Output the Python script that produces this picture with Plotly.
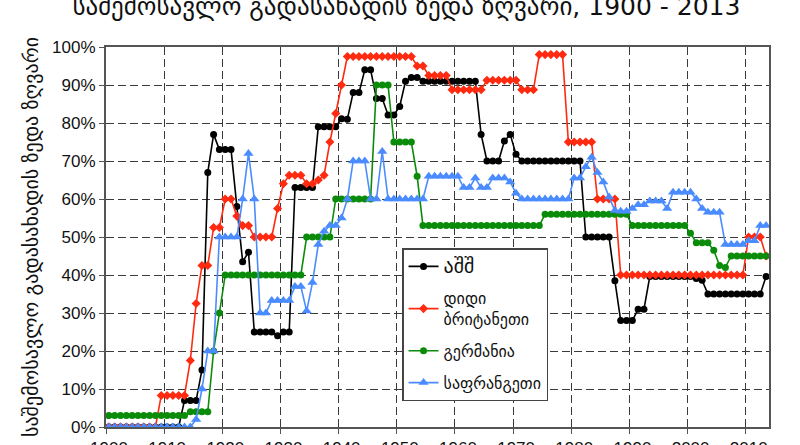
import plotly.graph_objects as go

# Years (x categories) and decade tick labels
years = list(range(1900, 2014))
tick_labels = ["1900", "1910", "1920", "1930", "1940", "1950",
               "1960", "1970", "1980", "1990", "2000", "2010"]
# gridlines/ticks sit on category boundaries (half a year before each label)
tick_bounds = [1899.5, 1909.5, 1919.5, 1929.5, 1939.5, 1949.5,
               1959.5, 1969.5, 1979.5, 1989.5, 1999.5, 2009.5]

# Top marginal income tax rates (%)
usa = [
    0, 0, 0, 0, 0, 0, 0, 0, 0, 0,                      # 1900-1909
    0, 0, 0, 7, 7, 7, 15, 67, 77, 73,                  # 1910-1919
    73, 73, 58, 43.5, 46, 25, 25, 25, 25, 24,          # 1920-1929
    25, 25, 63, 63, 63, 63, 79, 79, 79, 79,            # 1930-1939
    81.1, 81, 88, 88, 94, 94, 86.45, 86.45, 82.13, 82.13,  # 1940-1949
    84.36, 91, 92, 92, 91, 91, 91, 91, 91, 91,         # 1950-1959
    91, 91, 91, 91, 77, 70, 70, 70, 75.25, 77,         # 1960-1969
    71.75, 70, 70, 70, 70, 70, 70, 70, 70, 70,         # 1970-1979
    70, 70, 50, 50, 50, 50, 50, 38.5, 28, 28,          # 1980-1989
    28, 31, 31, 39.6, 39.6, 39.6, 39.6, 39.6, 39.6, 39.6,  # 1990-1999
    39.6, 39.1, 38.6, 35, 35, 35, 35, 35, 35, 35,      # 2000-2009
    35, 35, 35, 39.6,                                  # 2010-2013
]
uk = [
    0, 0, 0, 0, 0, 0, 0, 0, 0, 8.3,                    # 1900-1909
    8.3, 8.3, 8.3, 8.3, 17.5, 32.5, 42.5, 42.5, 52.5, 52.5,  # 1910-1919
    60, 60, 55.5, 53, 53, 50, 50, 50, 50, 57.5,        # 1920-1929
    64, 66.25, 66.25, 66.25, 64, 64, 65, 66.25, 75, 82.5,  # 1930-1939
    90, 97.5, 97.5, 97.5, 97.5, 97.5, 97.5, 97.5, 97.5, 97.5,  # 1940-1949
    97.5, 97.5, 97.5, 95, 95, 92.5, 92.5, 92.5, 92.5, 88.75,  # 1950-1959
    88.75, 88.75, 88.75, 88.75, 88.75, 91.25, 91.25, 91.25, 91.25, 91.25,  # 1960-1969
    91.25, 88.75, 88.75, 88.75, 98, 98, 98, 98, 98, 75,  # 1970-1979
    75, 75, 75, 75, 60, 60, 60, 60, 40, 40,            # 1980-1989
    40, 40, 40, 40, 40, 40, 40, 40, 40, 40,            # 1990-1999
    40, 40, 40, 40, 40, 40, 40, 40, 40, 40,            # 2000-2009
    50, 50, 50, 45,                                    # 2010-2013
]
germany = [
    3, 3, 3, 3, 3, 3, 3, 3, 3, 3,                      # 1900-1909
    3, 3, 3, 3, 4, 4, 4, 4, 20, 30,                    # 1910-1919
    40, 40, 40, 40, 40, 40, 40, 40, 40, 40,            # 1920-1929
    40, 40, 40, 40, 50, 50, 50, 50, 50, 60,            # 1930-1939
    60, 60, 60, 60, 60, 60, 90, 90, 90, 75,            # 1940-1949
    75, 75, 75, 66, 53, 53, 53, 53, 53, 53,            # 1950-1959
    53, 53, 53, 53, 53, 53, 53, 53, 53, 53,            # 1960-1969
    53, 53, 53, 53, 53, 56, 56, 56, 56, 56,            # 1970-1979
    56, 56, 56, 56, 56, 56, 56, 56, 56, 56,            # 1980-1989
    53, 53, 53, 53, 53, 53, 53, 53, 53, 53,            # 1990-1999
    51, 48.5, 48.5, 48.5, 46.5, 42.5, 42, 45, 45, 45,  # 2000-2009
    45, 45, 45, 45,                                    # 2010-2013
]
france = [
    0, 0, 0, 0, 0, 0, 0, 0, 0, 0,                      # 1900-1909
    0, 0, 0, 0, 0, 2, 10, 20, 20, 50,                  # 1910-1919
    50, 50, 50, 60, 72, 60, 30, 30, 33.3, 33.3,        # 1920-1929
    33.3, 33.3, 37, 37, 30.5, 38, 48, 51.5, 53, 53,    # 1930-1939
    55, 60, 70, 70, 70, 60, 60, 72.5, 60, 60,          # 1940-1949
    60, 60, 60, 60, 60, 66, 66, 66, 66, 66,            # 1950-1959
    66, 63, 63, 65.5, 63, 63, 65.5, 65.5, 65.5, 64.5,  # 1960-1969
    61.5, 60, 60, 60, 60, 60, 60, 60, 60, 60,          # 1970-1979
    65.5, 65.5, 68.5, 71, 67, 64.5, 60.5, 57, 56.8, 56.8,  # 1980-1989
    57.5, 58.5, 58.5, 59.5, 59.5, 59.5, 57.5, 61.8, 61.8, 61.8,  # 1990-1999
    61.8, 60, 57.5, 56.5, 56.5, 56.5, 48, 48, 48, 48,  # 2000-2009
    49, 49, 53, 53,                                    # 2010-2013
]
for s in (usa, uk, germany, france):
    assert len(s) == len(years), len(s)

names = ["<span style='font-size:20px'>აშშ</span>", "დიდი<br>ბრიტანეთი",
         "გერმანია", "საფრანგეთი"]
series = [usa, uk, germany, france]
colors = ["#000000", "#ff2a10", "#0a8c0a", "#4a8cff"]
symbols = ["circle", "diamond", "circle", "triangle-up"]
msizes = [7, 7, 7, 9]

title_text = "საშემოსავლო გადასახადის ზედა ზღვარი, 1900 - 2013"
ytitle_text = "საშემოსავლო გადასახადის ზედა ზღვარი"

GEO = "DejaVu Sans"
NUM = "Liberation Sans"

fig = go.Figure()
for i, (nm, vals) in enumerate(zip(names, series)):
    fig.add_trace(go.Scatter(
        x=years, y=vals, name=nm, mode="lines+markers",
        legendgroup=f"g{i}",
        line=dict(color=colors[i], width=1.6),
        marker=dict(symbol=symbols[i], size=msizes[i], color=colors[i],
                    line=dict(width=0)),
    ))

grid = dict(showgrid=True, gridcolor="#3a3a3a", gridwidth=1, griddash="8px,4px")

fig.update_layout(
    width=800, height=445,
    margin=dict(l=106, r=31, t=47, b=18, autoexpand=False),
    paper_bgcolor="white", plot_bgcolor="white",
    title=dict(text=title_text, x=0.508, xanchor="center",
               y=0.985, yanchor="middle", yref="container",
               font=dict(family=GEO, size=25, color="#111")),
    xaxis=dict(range=[1899.5, 2013.5],
               tickmode="array", tickvals=tick_bounds, ticktext=tick_labels,
               ticklabelshift=3,
               tickangle=0, automargin=False,
               showline=True, mirror=True, linecolor="#555", linewidth=2,
               ticks="outside", ticklen=5, tickcolor="#555",
               tickfont=dict(family=NUM, size=17, color="#111"),
               zeroline=False, **grid),
    yaxis=dict(range=[0, 100], tickmode="linear", tick0=0, dtick=10,
               ticksuffix="%", automargin=False,
               showline=True, mirror=True, linecolor="#555", linewidth=2,
               ticks="outside", ticklen=5, tickcolor="#555",
               tickfont=dict(family=NUM, size=17, color="#111"),
               zeroline=False,
               title=dict(text=ytitle_text, standoff=8,
                          font=dict(family=GEO, size=20, color="#111")),
               **grid),
    legend=dict(x=0.4465, y=0.471, xanchor="left", yanchor="top",
                bgcolor="white", bordercolor="#444", borderwidth=1.5,
                font=dict(family=GEO, size=16, color="#111"),
                traceorder="grouped", tracegroupgap=8, itemwidth=30),
    showlegend=True,
)

fig.write_html("out.html", config={"displayModeBar": False},
               post_script="document.body.style.margin='0';")
